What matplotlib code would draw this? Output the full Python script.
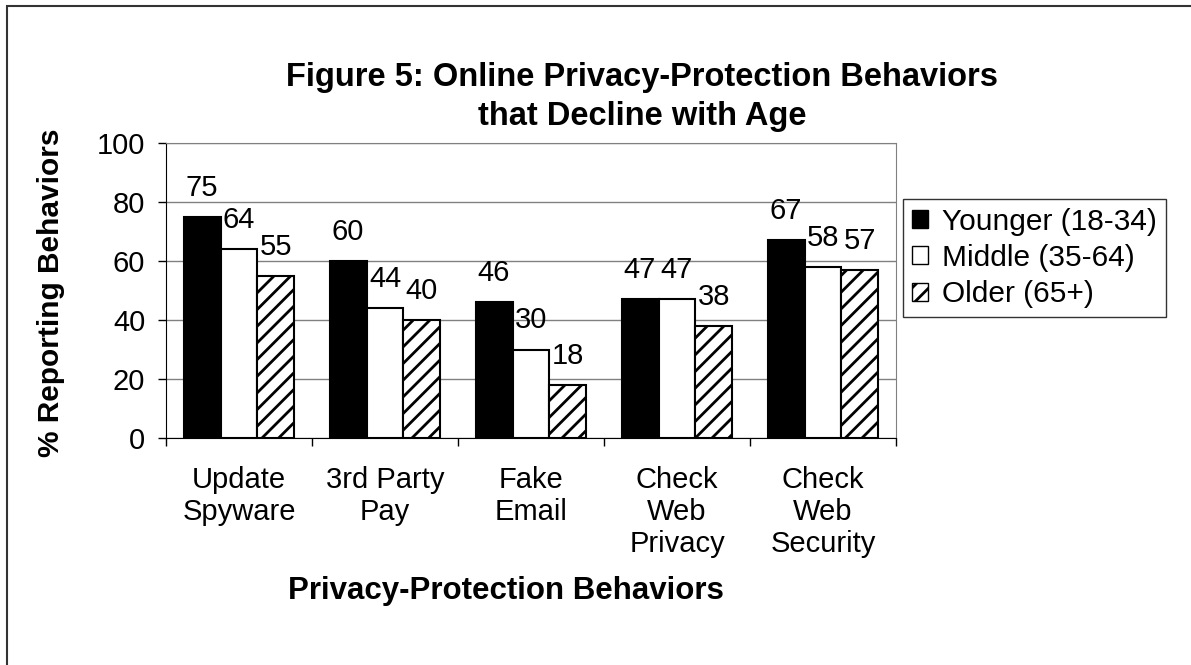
import numpy as np
import matplotlib.pyplot as plt
from matplotlib.patches import Rectangle, Patch

plt.rcParams['font.family'] = ['Liberation Sans', 'DejaVu Sans']
plt.rcParams['hatch.linewidth'] = 2.0

categories = ["Update\nSpyware", "3rd Party\nPay", "Fake\nEmail", "Check\nWeb\nPrivacy", "Check\nWeb\nSecurity"]
younger = [75, 60, 46, 47, 67]
middle = [64, 44, 30, 47, 58]
older = [55, 40, 18, 38, 57]
series_names = ["Younger (18-34)", "Middle (35-64)", "Older (65+)"]
yticks = [0, 20, 40, 60, 80, 100]

fig = plt.figure(figsize=(11.91, 6.65), dpi=100)
ax = fig.add_axes([166/1191, 1-438/665, 730/1191, 295/665])

x = np.arange(len(categories))
w = 0.253
styles = [dict(color='black', edgecolor='black'),
          dict(color='white', edgecolor='black'),
          dict(color='white', edgecolor='black', hatch='//')]
for i, (vals, st) in enumerate(zip([younger, middle, older], styles)):
    bars = ax.bar(x + (i-1)*w, vals, w, linewidth=1.5, zorder=3, **st)
    for b, v in zip(bars, vals):
        ax.annotate(str(v), (b.get_x() + b.get_width()/2, v), xytext=(0, 21),
                    textcoords='offset points', ha='center', va='center', fontsize=21)

ax.set_xlim(-0.5, len(categories)-0.5)
ax.set_ylim(0, 100)
ax.set_yticks(yticks)
ax.tick_params(axis='y', labelsize=21, length=6, width=1, pad=9, direction='out')
ax.set_xticks(x)
ax.set_xticklabels(categories, fontsize=21, linespacing=1.18)
ax.set_xticks(np.arange(len(categories)+1) - 0.5, minor=True)
ax.tick_params(axis='x', which='major', length=0, pad=20)
ax.tick_params(axis='x', which='minor', length=6, width=1, direction='out')
ax.grid(axis='y', color='#808080', linewidth=1, zorder=0)
for s in ['top', 'right']:
    ax.spines[s].set_color('#808080')
for s in ['left', 'bottom']:
    ax.spines[s].set_color('black')

fig.text(642/1191, 1-97/665, "Figure 5: Online Privacy-Protection Behaviors\nthat Decline with Age",
         ha='center', va='center', fontsize=23.5, fontweight='bold', linespacing=1.35)
fig.text(506/1191, 1-591/665, "Privacy-Protection Behaviors", ha='center', va='center',
         fontsize=22.5, fontweight='bold')
fig.text(51/1191, 1-293/665, "% Reporting Behaviors", ha='center', va='center',
         rotation=90, fontsize=21.5, fontweight='bold')

handles = [Patch(facecolor='black', edgecolor='black'),
           Patch(facecolor='white', edgecolor='black'),
           Patch(facecolor='white', edgecolor='black', hatch='//')]
leg = fig.legend(handles, series_names, loc='upper left', bbox_to_anchor=(903/1191, 1-199/665),
                 fontsize=21.5, frameon=True, fancybox=False, edgecolor='black',
                 handlelength=0.55, handleheight=0.55, handletextpad=0.45,
                 borderpad=0.3, labelspacing=0.27, borderaxespad=0)
leg.get_frame().set_linewidth(1)

fig.patches.append(Rectangle((7/1191, -0.1), 1.2, 1.1 - 6/665, transform=fig.transFigure,
                             fill=False, edgecolor='#333333', linewidth=1.5))

fig.savefig("out.png", dpi=100)
